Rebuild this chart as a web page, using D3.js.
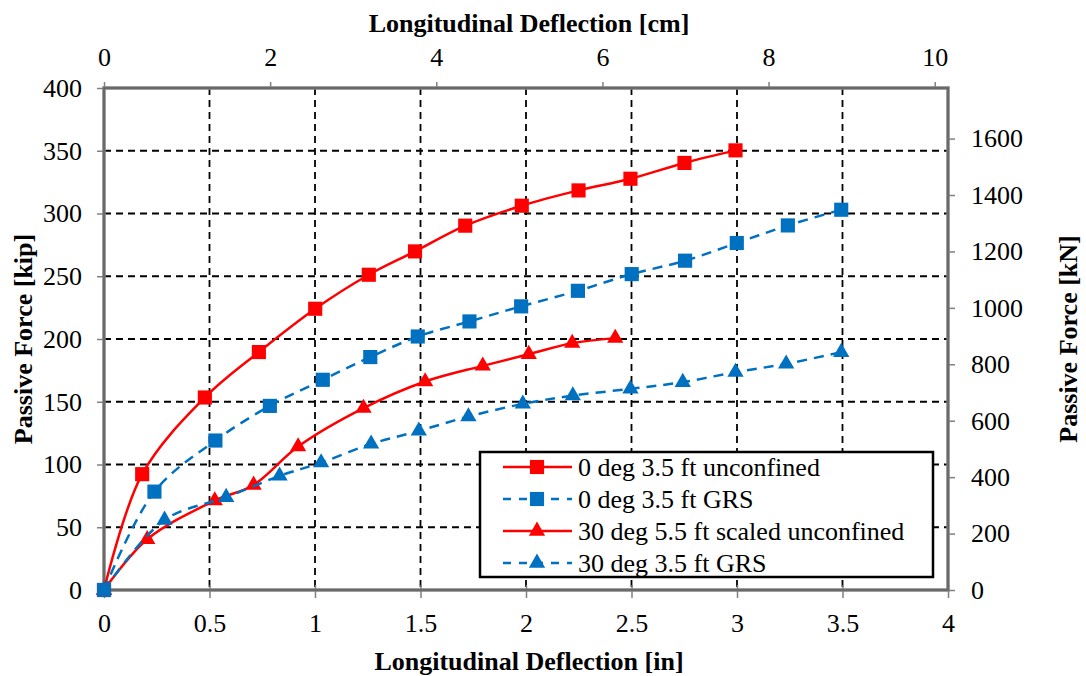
<!DOCTYPE html>
<html>
<head>
<meta charset="utf-8">
<script src="https://cdn.jsdelivr.net/npm/d3@7"></script>
<style>
  body { margin: 0; background: #fff; }
  text { font-family: "Liberation Serif", "Times New Roman", serif; fill: #000; }
</style>
</head>
<body>
<div id="chart"></div>
<script>
// Data (deflection in inches, force in kip)
const seriesNames = [
    "0 deg 3.5 ft unconfined",
    "0 deg 3.5 ft GRS",
    "30 deg 5.5 ft scaled unconfined",
    "30 deg 3.5 ft GRS"
]
const unconfined0X = [0, 0.181, 0.478, 0.734, 1.001, 1.255, 1.474, 1.712, 1.980, 2.249, 2.495, 2.751, 2.993]
const unconfined0Y = [0, 92.3, 153.4, 189.6, 224.1, 251.2, 269.8, 290.3, 306.2, 318.4, 327.7, 340.3, 350.3]
const grs0X = [0, 0.239, 0.528, 0.786, 1.037, 1.262, 1.487, 1.732, 1.977, 2.246, 2.501, 2.754, 2.999, 3.241, 3.494]
const grs0Y = [0, 78.4, 119.1, 146.7, 167.5, 185.6, 202.0, 214.0, 226.0, 238.4, 251.7, 262.4, 276.5, 290.5, 303.0]
const unconfined30X = [0, 0.205, 0.525, 0.709, 0.920, 1.230, 1.522, 1.795, 2.013, 2.219, 2.423]
const unconfined30Y = [0, 40.4, 71.2, 83.7, 114.3, 144.9, 166.1, 178.6, 187.9, 196.7, 200.7]
const grs30X = [0, 0.287, 0.579, 0.832, 1.029, 1.266, 1.492, 1.727, 1.985, 2.222, 2.495, 2.743, 2.993, 3.233, 3.494]
const grs30Y = [0, 55.8, 73.9, 90.9, 101.5, 116.4, 126.8, 138.2, 148.3, 154.9, 160.3, 165.6, 173.6, 180.2, 189.5]

const inTicks = [0, 0.5, 1, 1.5, 2, 2.5, 3, 3.5, 4]
const cmTicks = [0, 2, 4, 6, 8, 10]
const kipTicks = [0, 50, 100, 150, 200, 250, 300, 350, 400]
const kNTicks = [0, 200, 400, 600, 800, 1000, 1200, 1400, 1600]

const series = [
    { name: seriesNames[0], xs: unconfined0X, ys: unconfined0Y, color: "#ff0000", dash: null, symbol: d3.symbolSquare },
    { name: seriesNames[1], xs: grs0X, ys: grs0Y, color: "#0070c0", dash: "10,7", symbol: d3.symbolSquare },
    { name: seriesNames[2], xs: unconfined30X, ys: unconfined30Y, color: "#ff0000", dash: null, symbol: d3.symbolTriangle },
    { name: seriesNames[3], xs: grs30X, ys: grs30Y, color: "#0070c0", dash: "10,7", symbol: d3.symbolTriangle },
]

const FONT = '"Liberation Serif", "Times New Roman", serif'

// Dimensions
const width = 1086, height = 676
const plot = { left: 104, right: 948, top: 88, bottom: 590 }

const svg = d3.select("#chart")
    .append("svg")
    .attr("width", width)
    .attr("height", height)

const xScale = d3.scaleLinear().domain([0, 4]).range([plot.left, plot.right])
const yScale = d3.scaleLinear().domain([0, 400]).range([plot.bottom, plot.top])
const xCm = d3.scaleLinear().domain([0, 4 * 2.54]).range([plot.left, plot.right])
const yKN = d3.scaleLinear().domain([0, 400 * 4.44822]).range([plot.bottom, plot.top])

// Gridlines
const grid = svg.append("g")
grid.selectAll("line.v")
    .data(inTicks.slice(1, -1))
    .join("line")
    .attr("x1", d => xScale(d)).attr("x2", d => xScale(d))
    .attr("y1", plot.top).attr("y2", plot.bottom)
    .attr("stroke", "#000").attr("stroke-width", 1.8).attr("stroke-dasharray", "7,5")
grid.selectAll("line.h")
    .data(kipTicks.slice(1, -1))
    .join("line")
    .attr("y1", d => yScale(d)).attr("y2", d => yScale(d))
    .attr("x1", plot.left).attr("x2", plot.right)
    .attr("stroke", "#000").attr("stroke-width", 1.8).attr("stroke-dasharray", "7,5")

// Axes
function styleAxis(g) {
    g.attr("font-family", FONT).attr("font-size", 26)
    g.select(".domain").remove()
    g.selectAll(".tick line").attr("stroke", "#808080").attr("stroke-width", 1.5)
    g.selectAll(".tick text").style("font-size", "26px").style("font-family", FONT)
}

const fmt = d3.format("")

svg.append("g")
    .attr("transform", `translate(0,${plot.bottom})`)
    .call(d3.axisBottom(xScale).tickValues(inTicks).tickFormat(fmt).tickSize(8).tickPadding(16))
    .call(styleAxis)
    .call(g => g.selectAll(".tick line").attr("y1", -5))
svg.append("g")
    .attr("transform", `translate(0,${plot.top})`)
    .call(d3.axisTop(xCm).tickValues(cmTicks).tickFormat(fmt).tickSize(6).tickPadding(16))
    .call(styleAxis)
svg.append("g")
    .attr("transform", `translate(${plot.left},0)`)
    .call(d3.axisLeft(yScale).tickValues(kipTicks).tickFormat(fmt).tickSize(7).tickPadding(15))
    .call(styleAxis)
svg.append("g")
    .attr("transform", `translate(${plot.right},0)`)
    .call(d3.axisRight(yKN).tickValues(kNTicks).tickFormat(fmt).tickSize(7).tickPadding(16))
    .call(styleAxis)

// Plot frame
svg.append("rect")
    .attr("x", plot.left).attr("y", plot.top)
    .attr("width", plot.right - plot.left).attr("height", plot.bottom - plot.top)
    .attr("fill", "none").attr("stroke", "#808080").attr("stroke-width", 3.5)
svg.append("rect")
    .attr("x", plot.left).attr("y", plot.top)
    .attr("width", plot.right - plot.left).attr("height", plot.bottom - plot.top)
    .attr("fill", "none").attr("stroke", "#555").attr("stroke-width", 1)

// Series
const line = d3.line()
    .x(d => xScale(d[0]))
    .y(d => yScale(d[1]))
    .curve(d3.curveCatmullRom.alpha(0.5))

const markerSize = s => s.symbol === d3.symbolSquare ? 200 : 115

series.forEach(s => {
    const pts = s.xs.map((x, i) => [x, s.ys[i]])
    const g = svg.append("g")
    g.append("path")
        .datum(pts)
        .attr("d", line)
        .attr("fill", "none")
        .attr("stroke", s.color)
        .attr("stroke-width", 2.5)
        .attr("stroke-dasharray", s.dash)
    g.selectAll("path.m")
        .data(pts)
        .join("path")
        .attr("transform", d => `translate(${xScale(d[0])},${yScale(d[1])})`)
        .attr("d", d3.symbol().type(s.symbol).size(markerSize(s)))
        .attr("fill", s.color)
})

// Legend
const legend = svg.append("g")
legend.append("rect")
    .attr("x", 480).attr("y", 452).attr("width", 453).attr("height", 125)
    .attr("fill", "#fff").attr("stroke", "#000").attr("stroke-width", 2.5)
const rowY = d3.scalePoint().domain(seriesNames).range([467, 563])
series.forEach(s => {
    const y = rowY(s.name)
    legend.append("line")
        .attr("x1", 503).attr("x2", 572).attr("y1", y).attr("y2", y)
        .attr("stroke", s.color).attr("stroke-width", 2.5)
        .attr("stroke-dasharray", s.dash ? "8,8" : null)
        .attr("stroke-dashoffset", s.dash ? 0 : null)
    legend.append("path")
        .attr("transform", `translate(537,${y})`)
        .attr("d", d3.symbol().type(s.symbol).size(markerSize(s)))
        .attr("fill", s.color)
    legend.append("text")
        .attr("x", 578).attr("y", y)
        .attr("dy", "0.33em")
        .style("font-size", "26px")
        .text(s.name)
})

// Axis titles
svg.append("text")
    .attr("x", 529).attr("y", 32)
    .attr("text-anchor", "middle")
    .style("font-size", "26px").style("font-weight", "bold")
    .text("Longitudinal Deflection [cm]")
svg.append("text")
    .attr("x", 529).attr("y", 670)
    .attr("text-anchor", "middle")
    .style("font-size", "26px").style("font-weight", "bold")
    .text("Longitudinal Deflection [in]")
svg.append("text")
    .attr("transform", `translate(32,${(plot.top + plot.bottom) / 2}) rotate(-90)`)
    .attr("text-anchor", "middle")
    .style("font-size", "26px").style("font-weight", "bold")
    .text("Passive Force [kip]")
svg.append("text")
    .attr("transform", `translate(1077,${(plot.top + plot.bottom) / 2}) rotate(-90)`)
    .attr("text-anchor", "middle")
    .style("font-size", "26px").style("font-weight", "bold")
    .text("Passive Force [kN]")
</script>
</body>
</html>
